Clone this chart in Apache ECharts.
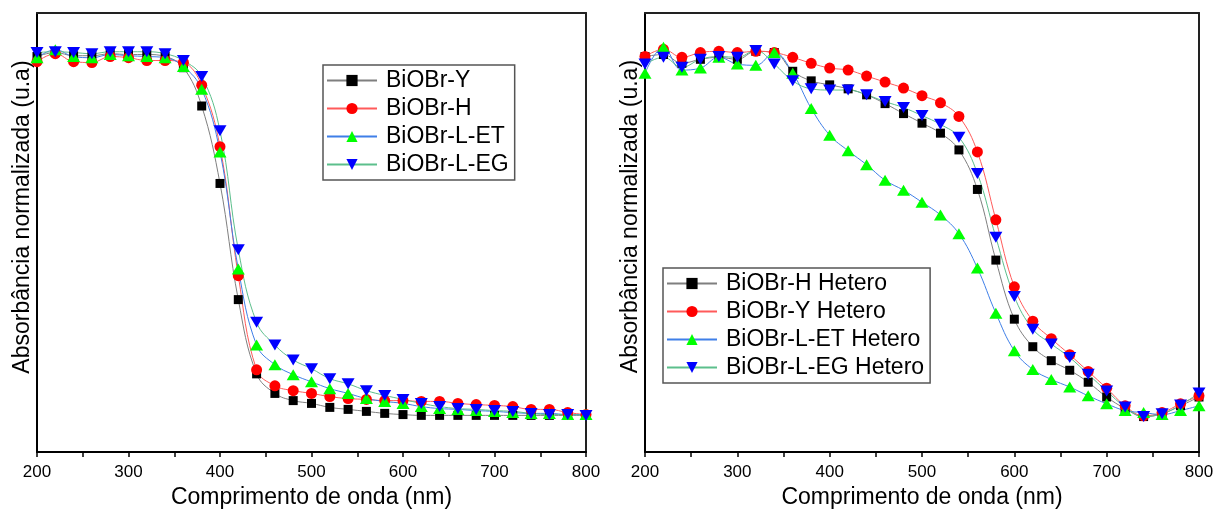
<!DOCTYPE html>
<html>
<head>
<meta charset="utf-8">
<script src="https://cdn.jsdelivr.net/npm/echarts@6/dist/echarts.min.js"></script>
<style>
  html, body { margin: 0; padding: 0; background: #fff; }
  #chart { width: 1218px; height: 514px; }
</style>
</head>
<body>
<div id="chart"></div>
<script>
// Wavelength grid (nm), shared by every spectrum
const wavelengths = [200,220,240,260,280,300,320,340,360,380,400,420,440,460,480,500,
  520,540,560,580,600,620,640,660,680,700,720,740,760,780,800];

// Left panel: pure BiOBr samples (normalized absorbance)
const biobrY = [0.991,1.001,0.993,0.993,0.998,0.996,0.996,0.991,0.963,0.867,0.673,0.382,0.196,0.147,0.129,0.122,
  0.112,0.107,0.102,0.097,0.094,0.092,0.092,0.092,0.092,0.092,0.092,0.092,0.092,0.092,0.092];
const biobrH = [0.978,0.998,0.978,0.976,0.991,0.988,0.981,0.981,0.976,0.919,0.765,0.442,0.206,0.166,0.154,0.147,
  0.139,0.134,0.132,0.129,0.129,0.127,0.127,0.122,0.119,0.117,0.114,0.107,0.107,0.099,0.094];
const biobrLET = [0.988,1.008,0.991,0.988,0.996,0.993,0.991,0.988,0.966,0.909,0.752,0.459,0.268,0.219,0.194,0.176,
  0.159,0.147,0.134,0.127,0.122,0.114,0.109,0.107,0.104,0.102,0.099,0.097,0.097,0.094,0.094];
const biobrLEG = [1.001,1.003,1.001,0.998,1.003,1.003,1.003,0.998,0.981,0.941,0.805,0.507,0.325,0.268,0.231,0.209,
  0.184,0.171,0.154,0.142,0.132,0.122,0.114,0.109,0.107,0.104,0.102,0.097,0.094,0.094,0.092];

// Right panel: heterostructures (normalized absorbance)
const heteroH = [0.991,0.996,0.974,0.984,0.989,0.984,1.004,1.001,0.954,0.930,0.920,0.910,0.895,0.873,0.848,0.824,
  0.799,0.757,0.658,0.481,0.333,0.264,0.229,0.205,0.175,0.138,0.109,0.089,0.096,0.116,0.138];
const heteroY = [0.991,1.009,0.989,1.001,1.004,1.001,1.004,1.001,0.989,0.974,0.962,0.957,0.942,0.927,0.912,0.893,
  0.875,0.841,0.752,0.582,0.414,0.328,0.284,0.244,0.202,0.160,0.116,0.091,0.099,0.121,0.141];
const heteroLET = [0.949,1.014,0.957,0.962,0.989,0.972,0.969,1.001,0.949,0.861,0.794,0.755,0.720,0.681,0.656,0.626,
  0.594,0.547,0.461,0.348,0.254,0.207,0.182,0.163,0.141,0.121,0.104,0.099,0.094,0.104,0.116];
const heteroLEG = [0.972,0.989,0.964,0.984,0.991,0.989,1.006,0.972,0.930,0.910,0.907,0.907,0.895,0.878,0.863,0.843,
  0.821,0.789,0.698,0.538,0.390,0.308,0.271,0.237,0.195,0.153,0.113,0.089,0.096,0.118,0.148];

const leftNames = ['BiOBr-Y', 'BiOBr-H', 'BiOBr-L-ET', 'BiOBr-L-EG'];
const rightNames = ['BiOBr-H Hetero', 'BiOBr-Y Hetero', 'BiOBr-L-ET Hetero', 'BiOBr-L-EG Hetero'];

const xTitle = 'Comprimento de onda (nm)';
const yTitle = 'Absorbância normalizada (u.a)';

const FONT = 'Liberation Sans, Arial, sans-serif';

// marker / line look for the four sample types (same order in both panels)
const looks = [
  { symbol: 'rect', size: 9, marker: '#000000', line: '#7f7f7f', rotate: 0 },
  { symbol: 'circle', size: 11, marker: '#ff0000', line: '#ff5a5a', rotate: 0 },
  { symbol: 'triangle', size: [13, 11], marker: '#00ff00', line: '#3f7fe8', rotate: 0 },
  { symbol: 'triangle', size: [13, 11], marker: '#0000ff', line: '#5cbf8c', rotate: 180 }
];

function pairs(values) {
  return wavelengths.map((w, i) => [w, values[i]]);
}

function makeSeries(name, values, look, axisIdx) {
  return {
    name: name,
    type: 'line',
    xAxisIndex: axisIdx,
    yAxisIndex: axisIdx,
    data: pairs(values),
    smooth: 0.4,
    symbol: look.symbol,
    symbolSize: look.size,
    symbolRotate: look.rotate,
    showAllSymbol: true,
    clip: false,
    lineStyle: { color: look.line, width: 1 },
    itemStyle: { color: look.marker, borderWidth: 0 },
    emphasis: { disabled: true },
    animation: false
  };
}

function bottomAxis(gridIndex) {
  return {
    type: 'value', gridIndex: gridIndex, position: 'bottom',
    min: 200, max: 800, interval: 100,
    axisLine: { show: true, onZero: false, lineStyle: { color: '#000', width: 2 } },
    axisTick: { show: true, length: 5, lineStyle: { color: '#000', width: 1.5 } },
    minorTick: { show: true, splitNumber: 2, length: 5, lineStyle: { color: '#000', width: 1.5 } },
    axisLabel: { color: '#000', fontSize: 17, fontFamily: FONT, margin: 12 },
    splitLine: { show: false },
    name: xTitle, nameLocation: 'middle', nameGap: 30,
    nameTextStyle: { color: '#000', fontSize: 23, fontFamily: FONT }
  };
}

function topFrame(gridIndex) {
  return {
    type: 'value', gridIndex: gridIndex, position: 'top',
    min: 200, max: 800,
    axisLine: { show: true, onZero: false, lineStyle: { color: '#222', width: 2 } },
    axisTick: { show: false }, axisLabel: { show: false }, splitLine: { show: false }
  };
}

function leftAxis(gridIndex, shift) {
  return {
    type: 'value', gridIndex: gridIndex, position: 'left',
    min: 0, max: 1.1,
    axisLine: { show: true, onZero: false, lineStyle: { color: '#000', width: 2 } },
    axisTick: { show: false }, axisLabel: { show: false }, splitLine: { show: false },
    name: yTitle, nameLocation: 'middle', nameGap: 3, nameRotate: 90,
    nameTextStyle: { color: '#000', fontSize: 23, fontFamily: FONT, padding: [0, 0, 0, shift] }
  };
}

function rightFrame(gridIndex) {
  return {
    type: 'value', gridIndex: gridIndex, position: 'right',
    min: 0, max: 1.1,
    axisLine: { show: true, onZero: false, lineStyle: { color: '#222', width: 2 } },
    axisTick: { show: false }, axisLabel: { show: false }, splitLine: { show: false }
  };
}

function legendBox(names, left, top) {
  return {
    data: names,
    orient: 'vertical',
    left: left, top: top,
    itemWidth: 50, itemHeight: 14, itemGap: 5,
    padding: [4, 6, 4, 3],
    borderColor: '#555', borderWidth: 1.5, borderRadius: 0,
    backgroundColor: '#fff',
    selectedMode: false,
    textStyle: { color: '#000', fontSize: 23, fontFamily: FONT, padding: [0, 0, 0, 4] }
  };
}

// x/y axis slots: 0 = left panel, 1 = left frame, 2 = right panel, 3 = right frame
const option = {
  backgroundColor: '#fff',
  animation: false,
  grid: [
    { left: 37, top: 13, width: 549, height: 443 },
    { left: 645, top: 13, width: 554, height: 446 }
  ],
  xAxis: [bottomAxis(0), topFrame(0), bottomAxis(1), topFrame(1)],
  yAxis: [leftAxis(0, 31), rightFrame(0), leftAxis(1, 32), rightFrame(1)],
  legend: [legendBox(leftNames, 323, 65), legendBox(rightNames, 663, 268)],
  series: [
    makeSeries(leftNames[0], biobrY, looks[0], 0),
    makeSeries(leftNames[1], biobrH, looks[1], 0),
    makeSeries(leftNames[2], biobrLET, looks[2], 0),
    makeSeries(leftNames[3], biobrLEG, looks[3], 0),
    makeSeries(rightNames[0], heteroH, looks[0], 2),
    makeSeries(rightNames[1], heteroY, looks[1], 2),
    makeSeries(rightNames[2], heteroLET, looks[2], 2),
    makeSeries(rightNames[3], heteroLEG, looks[3], 2)
  ]
};

const chart = echarts.init(document.getElementById('chart'), null, { renderer: 'canvas' });
chart.setOption(option);
</script>
</body>
</html>
